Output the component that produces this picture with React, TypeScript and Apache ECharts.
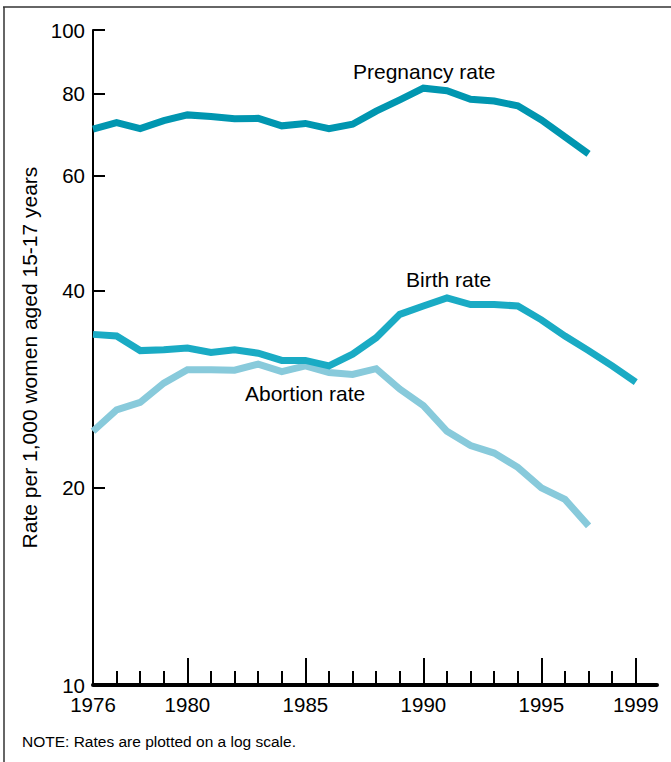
import React, { useEffect, useRef } from "react";
import * as echarts from "echarts";

const years: number[] = [
  1976, 1977, 1978, 1979, 1980, 1981, 1982, 1983, 1984, 1985, 1986, 1987,
  1988, 1989, 1990, 1991, 1992, 1993, 1994, 1995, 1996, 1997, 1998, 1999,
];

const pregnancyRate: (number | null)[] = [
  70.6, 72.2, 70.7, 72.7, 74.2, 73.8, 73.2, 73.3, 71.4, 72.0, 70.7, 71.8,
  75.2, 78.2, 81.5, 80.8, 78.4, 77.9, 76.6, 72.9, 68.7, 64.7, null, null,
];

const birthRate: (number | null)[] = [
  34.3, 34.1, 32.4, 32.5, 32.7, 32.2, 32.5, 32.1, 31.3, 31.3, 30.7, 32.0,
  33.9, 36.8, 37.9, 39.0, 38.1, 38.1, 37.9, 36.1, 34.1, 32.4, 30.7, 29.0,
];

const abortionRate: (number | null)[] = [
  24.4, 26.3, 27.0, 28.9, 30.3, 30.3, 30.25, 30.9, 30.1, 30.7, 30.0, 29.8,
  30.4, 28.3, 26.7, 24.4, 23.2, 22.6, 21.5, 20.0, 19.2, 17.5, null, null,
];

const yTickValues: number[] = [10, 20, 40, 60, 80, 100];
const xLabelYears: number[] = [1976, 1980, 1985, 1990, 1995, 1999];
const xMajorTickYears: number[] = [1980, 1985, 1990, 1995, 1999];
const xMinorTickYears: number[] = years.filter(
  (y) => y !== 1976 && xMajorTickYears.indexOf(y) < 0
);

const seriesNames = ["Pregnancy rate", "Birth rate", "Abortion rate"];
const yTitle = "Rate per 1,000 women aged 15-17 years";
const note = "NOTE: Rates are plotted on a log scale.";

const FONT = "'Liberation Sans', Arial, Helvetica, sans-serif";

const toPairs = (vals: (number | null)[]) =>
  years
    .map((y, i) => (vals[i] == null ? null : [y, Math.log10(vals[i] as number)]))
    .filter((p) => p !== null);

export default function App() {
  const ref = useRef<HTMLDivElement>(null);

  useEffect(() => {
    if (!ref.current) return;
    const chart = echarts.init(ref.current, undefined, { renderer: "svg" });
    const yLogTicks = yTickValues.map((v) => Math.log10(v));

    const baseX = {
      type: "value",
      min: 1976,
      max: 1999.9,
      position: "bottom",
      gridIndex: 0,
      splitLine: { show: false },
    };

    chart.setOption({
      animation: false,
      backgroundColor: "#ffffff",
      grid: { left: 93, right: 14, top: 30, bottom: 77, containLabel: false },
      xAxis: [
        {
          ...baseX,
          axisLine: { show: true, lineStyle: { color: "#000", width: 4 } },
          axisTick: {
            show: true,
            inside: true,
            length: 14,
            customValues: xMinorTickYears,
            lineStyle: { color: "#000", width: 2 },
          },
          axisLabel: {
            show: true,
            customValues: xLabelYears,
            formatter: (v: number) => String(Math.round(v)),
            color: "#000",
            fontSize: 20.5,
            fontFamily: FONT,
            margin: 9,
          },
        },
        {
          ...baseX,
          axisLine: { show: false },
          axisTick: {
            show: true,
            inside: true,
            length: 27,
            customValues: xMajorTickYears,
            lineStyle: { color: "#000", width: 2 },
          },
          axisLabel: { show: false },
        },
      ],
      yAxis: {
        type: "value",
        min: 1,
        max: 2,
        splitLine: { show: false },
        axisLine: { show: true, lineStyle: { color: "#000", width: 2 } },
        axisTick: {
          show: true,
          inside: true,
          length: 12,
          customValues: yLogTicks,
          lineStyle: { color: "#000", width: 2 },
        },
        axisLabel: {
          show: true,
          customValues: yLogTicks,
          formatter: (v: number) => String(Math.round(Math.pow(10, v))),
          color: "#000",
          fontSize: 20.5,
          fontFamily: FONT,
          margin: 8,
        },
        name: yTitle,
        nameLocation: "middle",
        nameGap: 51,
        nameTextStyle: { color: "#000", fontSize: 21, fontFamily: FONT },
      },
      series: [
        {
          name: seriesNames[2],
          type: "line",
          data: toPairs(abortionRate),
          showSymbol: false,
          symbol: "none",
          lineStyle: { color: "#88CADB", width: 7, join: "miter", cap: "butt" },
          z: 2,
        },
        {
          name: seriesNames[1],
          type: "line",
          data: toPairs(birthRate),
          showSymbol: false,
          symbol: "none",
          lineStyle: { color: "#1AABC4", width: 7, join: "miter", cap: "butt" },
          z: 3,
        },
        {
          name: seriesNames[0],
          type: "line",
          data: toPairs(pregnancyRate),
          showSymbol: false,
          symbol: "none",
          lineStyle: { color: "#0096B0", width: 7, join: "miter", cap: "butt" },
          z: 4,
        },
      ],
      graphic: [
        {
          type: "line",
          shape: { x1: 3, y1: 7, x2: 671, y2: 7 },
          style: { stroke: "#333", lineWidth: 1.5 },
        },
        {
          type: "line",
          shape: { x1: 4, y1: 7, x2: 4, y2: 762 },
          style: { stroke: "#333", lineWidth: 1.5 },
        },
        {
          type: "text",
          x: 353,
          y: 71,
          style: {
            text: seriesNames[0],
            fill: "#000",
            font: `21px ${FONT}`,
            verticalAlign: "middle",
            align: "left",
          },
        },
        {
          type: "text",
          x: 406,
          y: 279,
          style: {
            text: seriesNames[1],
            fill: "#000",
            font: `21px ${FONT}`,
            verticalAlign: "middle",
            align: "left",
          },
        },
        {
          type: "text",
          x: 245,
          y: 393,
          style: {
            text: seriesNames[2],
            fill: "#000",
            font: `21px ${FONT}`,
            verticalAlign: "middle",
            align: "left",
          },
        },
        {
          type: "text",
          x: 22,
          y: 741,
          style: {
            text: note,
            fill: "#000",
            font: `15.5px ${FONT}`,
            verticalAlign: "middle",
            align: "left",
          },
        },
      ],
    });

    return () => chart.dispose();
  }, []);

  return (
    <div
      ref={ref}
      style={{
        position: "fixed",
        left: 0,
        top: 0,
        width: 671,
        height: 762,
        background: "#fff",
      }}
    />
  );
}
